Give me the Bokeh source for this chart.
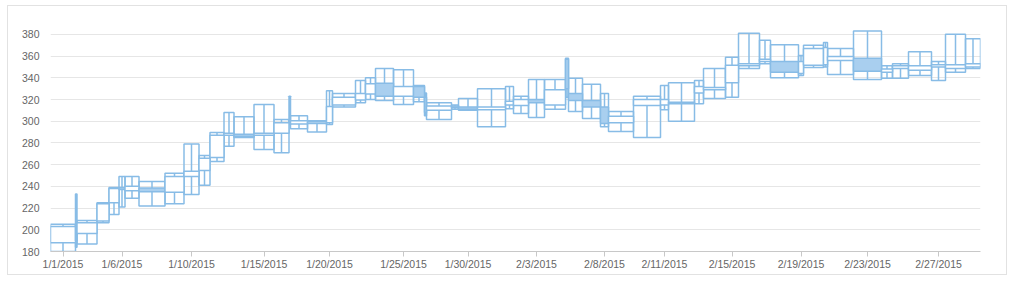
import numpy as np
from bokeh.plotting import figure
from bokeh.models import Range1d, FixedTicker, ColumnDataSource
from bokeh.embed import file_html
from bokeh.resources import INLINE

dates = ["1/1/2015", "1/2/2015", "1/3/2015", "1/4/2015", "1/5/2015", "1/6/2015",
         "1/7/2015", "1/8/2015", "1/9/2015", "1/10/2015", "1/11/2015", "1/12/2015",
         "1/13/2015", "1/14/2015", "1/15/2015", "1/16/2015", "1/17/2015", "1/18/2015",
         "1/19/2015", "1/20/2015", "1/21/2015", "1/22/2015", "1/23/2015", "1/24/2015",
         "1/25/2015", "1/26/2015", "1/27/2015", "1/28/2015", "1/29/2015", "1/30/2015",
         "1/31/2015", "2/1/2015", "2/2/2015", "2/3/2015", "2/4/2015", "2/5/2015",
         "2/6/2015", "2/7/2015", "2/8/2015", "2/9/2015", "2/10/2015", "2/11/2015",
         "2/12/2015", "2/13/2015", "2/14/2015", "2/15/2015", "2/16/2015", "2/17/2015",
         "2/18/2015", "2/19/2015", "2/20/2015", "2/21/2015", "2/22/2015", "2/23/2015",
         "2/24/2015", "2/25/2015", "2/26/2015", "2/27/2015", "2/28/2015", "3/1/2015"]

volume = [25, 1.5, 20, 12, 10, 6, 14, 26, 19, 15, 11, 14, 10, 20, 20, 15, 1.5, 17, 19, 6,
          23, 10, 10, 18, 20, 11, 2, 25, 7, 19, 28, 8, 15, 16, 21, 3, 14, 18, 8, 25,
          27, 8, 26, 9, 22, 13, 21, 11, 28, 5, 20, 4, 26, 28, 11, 16, 23, 14, 20, 15]

low = [180, 184, 187, 206.5, 214, 221, 229, 222, 224, 232.5, 241, 263, 277, 285, 274,
       271, 297, 293, 290, 297, 313, 317, 320, 319, 315.5, 318, 305, 301.5, 311, 310,
       295, 311.5, 307, 303.5, 311, 322, 309, 302.5, 295, 290.5, 285, 310.5, 300, 316, 321,
       322, 348.5, 353, 340, 342, 349.5, 350, 343, 338.5, 339.5, 339.5, 342, 337.5, 345, 348.5]

high = [205, 233, 208.5, 225, 239, 249, 249, 244.5, 252, 279, 268.5, 289.5, 308, 304, 315.5,
        301.5, 323, 305, 300.5, 328, 325.5, 337.5, 340, 348.5, 347.5, 333, 326, 317, 315, 321,
        330, 332, 323, 338.5, 338.5, 358, 339.5, 334, 325.5, 309, 323, 333, 335.5, 337.5, 348.5,
        359, 381, 374.5, 370.5, 360.5, 370, 372.5, 367, 383, 351, 353, 364, 355, 380, 376]

open_ = [188, 190, 196.5, 208, 225, 239, 236, 238.5, 234.5, 249, 254.5, 266.5, 287, 288, 287,
         289, 299, 297.5, 298, 298.5, 315, 319.5, 325, 335, 323, 332, 322, 310, 314, 313,
         310.5, 315, 314.5, 320, 315, 357, 325.5, 319, 313, 298.5, 314.5, 315, 316, 326, 329,
         335.5, 351, 355, 355, 344, 351.5, 352, 356, 358, 345, 348.5, 347, 350, 348.5, 350]

close = [203, 205, 206.5, 224, 238, 237, 240, 235, 249, 254, 266, 287, 289, 286, 289,
         298.5, 301, 300.5, 299.5, 313.5, 322, 325.5, 334.5, 323, 332, 322, 308, 314, 312.5, 311,
         313, 318.5, 320, 317, 329, 330, 319, 313, 298, 304.5, 320, 320, 317.5, 332, 331,
         351.5, 353, 357, 345, 355, 367, 368, 359.5, 346, 348, 351, 351, 352, 352, 353]

label_dates = ["1/1/2015", "1/6/2015", "1/10/2015", "1/15/2015", "1/20/2015", "1/25/2015",
               "1/30/2015", "2/3/2015", "2/8/2015", "2/11/2015", "2/15/2015", "2/19/2015",
               "2/23/2015", "2/27/2015"]
y_ticks = [180, 200, 220, 240, 260, 280, 300, 320, 340, 360, 380]

LINE = "#88bce6"
FILL = "#a9cfef"
TEXT = "#666666"

vol = np.array(volume, dtype=float)
right = np.cumsum(vol)
left = right - vol
center = (left + right) / 2
o = np.array(open_, dtype=float)
c = np.array(close, dtype=float)
lo = np.array(low, dtype=float)
hi = np.array(high, dtype=float)
btop = np.maximum(o, c)
bbot = np.minimum(o, c)
falling = o > c

src = ColumnDataSource(dict(left=left, right=right, center=center, low=lo, high=hi,
                            btop=btop, bbot=bbot,
                            fill=[FILL if f else "white" for f in falling]))

total = float(right[-1])
p = figure(width=1000, height=270, x_range=Range1d(0, total), y_range=Range1d(180, 390),
           output_backend="svg", toolbar_location=None,
           min_border_left=42, min_border_right=28, min_border_top=17, min_border_bottom=25,
           margin=(5, 0, 0, 7), styles={"border": "1px solid #e2e2e2"})
p.outline_line_color = None
p.background_fill_color = "white"
p.border_fill_color = "white"

# outer high-low boxes
p.quad(left="left", right="right", bottom="low", top="high", source=src,
       fill_color=None, line_color=LINE, line_width=1.5)
# open-close bodies
p.quad(left="left", right="right", bottom="bbot", top="btop", source=src,
       fill_color="fill", line_color=LINE, line_width=1.5)
# wick center lines
p.segment(x0="center", y0="btop", x1="center", y1="high", source=src, line_color=LINE, line_width=1.5)
p.segment(x0="center", y0="low", x1="center", y1="bbot", source=src, line_color=LINE, line_width=1.5)

# axes
tick_pos = [float(center[dates.index(d)]) for d in label_dates]
p.xaxis.ticker = FixedTicker(ticks=tick_pos)
p.xaxis.major_label_overrides = {tp: d for tp, d in zip(tick_pos, label_dates)}
p.xaxis.axis_line_color = "#c8c8c8"
p.xaxis.major_tick_line_color = "#c8c8c8"
p.xaxis.major_tick_out = 5
p.xaxis.major_tick_in = 0
p.xaxis.minor_tick_line_color = None
p.xaxis.major_label_standoff = 1
p.xaxis.major_label_text_font = "Liberation Sans"
p.xaxis.major_label_text_font_size = "10.5px"
p.xaxis.major_label_text_color = TEXT

p.yaxis.ticker = FixedTicker(ticks=y_ticks)
p.yaxis.axis_line_color = None
p.yaxis.major_tick_line_color = None
p.yaxis.minor_tick_line_color = None
p.yaxis.major_label_standoff = 5
p.yaxis.major_label_text_font = "Liberation Sans"
p.yaxis.major_label_text_font_size = "10.5px"
p.yaxis.major_label_text_color = TEXT

p.xgrid.grid_line_color = None
p.ygrid.grid_line_color = "#e6e6e6"
p.ygrid.grid_line_width = 1

open("out.html", "w").write(file_html(p, INLINE))
